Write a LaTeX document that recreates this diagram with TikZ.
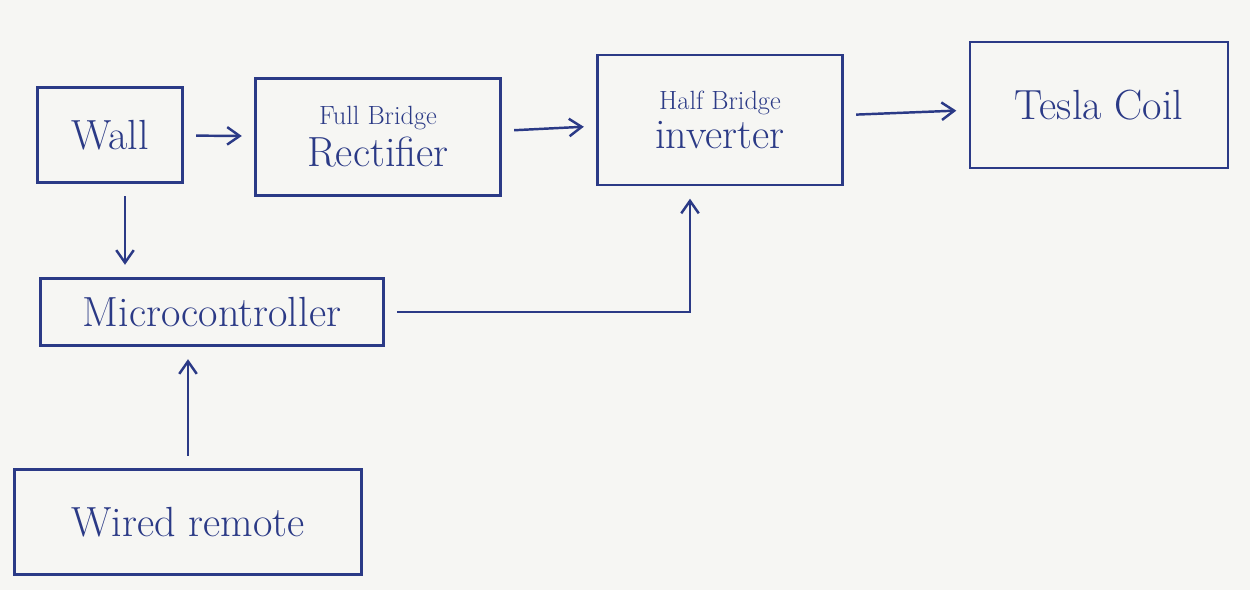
\documentclass[tikz,border=0pt]{standalone}
\usepackage{tikz}
\usepackage{xcolor}
\usetikzlibrary{arrows.meta, calc, positioning}
\definecolor{ink}{HTML}{2B3A86}
\definecolor{paper}{HTML}{F6F6F3}

\begin{document}
\begin{tikzpicture}[x=0.02cm, y=-0.02cm,
	blk/.style={draw=ink, line width=1.4pt, text=ink, align=center, inner sep=2pt},
	flow/.style={->, >={Straight Barb[length=2.5mm,width=3.5mm]}, draw=ink, line width=1.4pt, shorten >=2.5mm, shorten <=2.5mm}]
\pgfmathsetmacro{\bigfont}{24}
\pgfmathsetmacro{\smallfont}{15}

% Draw paper
\fill[paper] (0,0) rectangle (1250,590);
\useasboundingbox (0,0) rectangle (1250,590);

% Draw blocks
\node[blk, minimum width=2.9cm, minimum height=1.9cm] (wall) at (110,135) {\fontsize{\bigfont}{28}\selectfont Wall};
\node[blk, minimum width=4.9cm, minimum height=2.34cm] (rect) at (378,137) {\fontsize{\smallfont}{18}\selectfont Full Bridge\\[3pt]\fontsize{\bigfont}{28}\selectfont Rectifier};
\node[blk, minimum width=4.9cm, minimum height=2.6cm] (inv) at (720,120) {\fontsize{\smallfont}{18}\selectfont Half Bridge\\[3pt]\fontsize{\bigfont}{28}\selectfont inverter};
\node[blk, minimum width=5.16cm, minimum height=2.52cm] (tesla) at (1099,105) {\fontsize{\bigfont}{28}\selectfont Tesla Coil};
\node[blk, minimum width=6.86cm, minimum height=1.34cm] (micro) at (212,312) {\fontsize{\bigfont}{28}\selectfont Microcontroller};
\node[blk, minimum width=6.94cm, minimum height=2.1cm] (remote) at (188,522) {\fontsize{\bigfont}{28}\selectfont Wired remote};

% Draw power path
\draw[flow] (wall) -- (rect);
\draw[flow] (rect) -- (inv);
\draw[flow] (inv) -- (tesla);

% Draw control path
\draw[flow] ([xshift=0.3cm]wall.south) -- ([xshift=0.3cm]wall.south |- micro.north);
\draw[flow] (remote.north) -- (remote.north |- micro.south);
\draw[flow] (micro.east) -| ([xshift=-0.6cm]inv.south);
\end{tikzpicture}
\end{document}
